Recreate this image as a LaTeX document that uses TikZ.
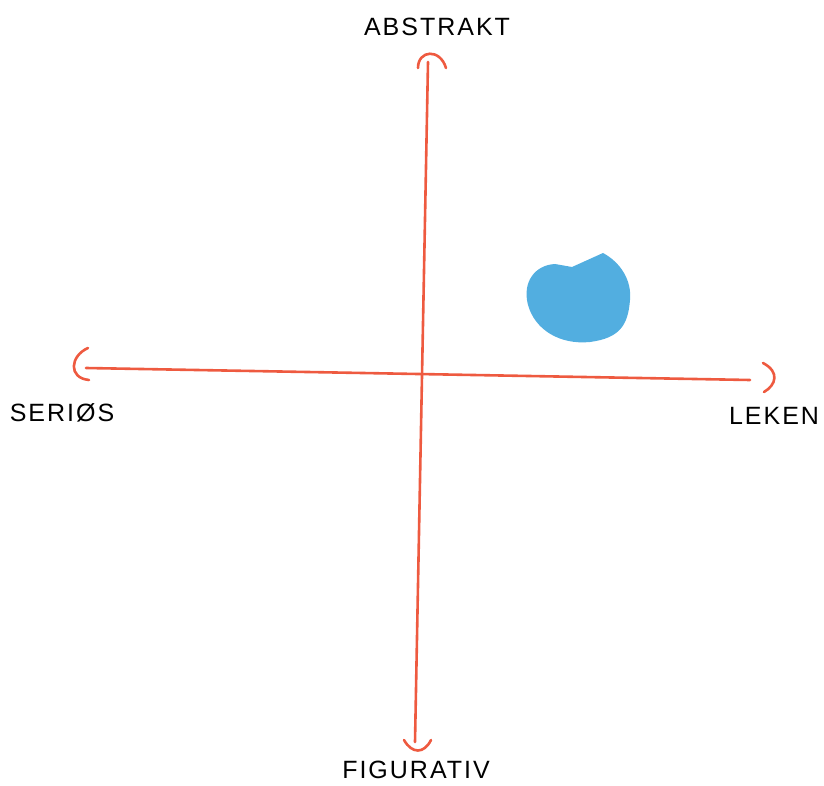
\documentclass[tikz,border=0pt]{standalone}
\usepackage{fontspec}
\setmainfont{Liberation Sans}[LetterSpace=8]
\definecolor{axisred}{HTML}{EE5A40}
\definecolor{blobblue}{HTML}{52AEE0}

\begin{document}
\begin{tikzpicture}[x=1pt,y=-1pt,
    axis/.style={draw=axisred, line width=2.6pt, line cap=round},
    tip/.style={draw=axisred, line width=2.6pt, line cap=round},
    lbl/.style={font=\fontsize{25}{27}\selectfont, text=black, inner sep=0pt}]
    \useasboundingbox (0,0) rectangle (824,786);

    % -----------------------------------------------------
    % 1) Endpoints of the two axes
    % -----------------------------------------------------
    \coordinate (top) at (428,62);
    \coordinate (bottom) at (415,742);
    \coordinate (left) at (86,368);
    \coordinate (right) at (750,380);

    % -----------------------------------------------------
    % 2) Axes
    % -----------------------------------------------------
    \draw[axis] (top) -- (bottom);
    \draw[axis] (left) -- (right);

    % -----------------------------------------------------
    % 3) Open arrow heads (hand drawn arcs)
    % -----------------------------------------------------
    \draw[tip] (418,68) .. controls (418,50) and (440,48) .. (446,68);
    \draw[tip] (404,740) .. controls (412,754) and (424,754) .. (431,740);
    \draw[tip] (88,348) .. controls (70,356) and (68,378) .. (89,380);
    \draw[tip] (763,363) .. controls (780,372) and (776,385) .. (764,392);

    % -----------------------------------------------------
    % 4) Labels
    % -----------------------------------------------------
    \node[lbl] (abstrakt) at (437,27) {ABSTRAKT};
    \node[lbl] (figurativ) at (416,770) {FIGURATIV};
    \node[lbl] (serios) at (62,413) {SERIØS};
    \node[lbl] (leken) at (774,416) {LEKEN};

    % -----------------------------------------------------
    % 5) Blue blob in the upper right quadrant
    % -----------------------------------------------------
    \fill[blobblue] (603,253) .. controls (620,262) and (632,280) .. (630,300)
        .. controls (628,325) and (620,338) .. (590,342)
        .. controls (560,345) and (535,330) .. (528,305)
        .. controls (522,282) and (535,265) .. (555,264)
        -- (572,267) -- cycle;

\end{tikzpicture}
\end{document}
